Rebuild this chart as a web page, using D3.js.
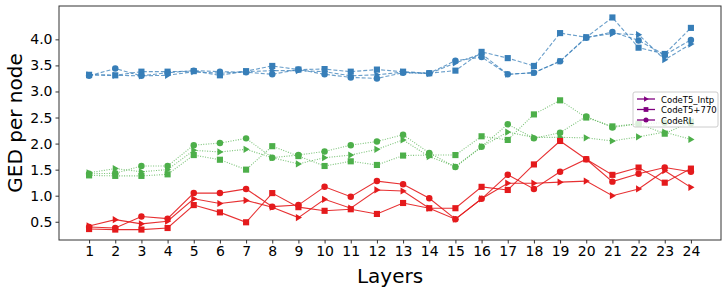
<!DOCTYPE html>
<html>
<head>
<meta charset="utf-8">
<script src="https://cdn.jsdelivr.net/npm/d3@7"></script>
<style>
  body { margin: 0; background: #fff; }
  svg text { font-family: "DejaVu Sans", sans-serif; }
</style>
</head>
<body>
<div id="chart"></div>
<script>
// layers on the x axis
var layers = d3.range(1, 25);

// blue group (dashed)
var blueIntp = [3.32, 3.31, 3.30, 3.31, 3.38, 3.35, 3.38, 3.40, 3.40, 3.38, 3.30, 3.32, 3.37, 3.34, 3.55, 3.72, 3.33, 3.36, 3.58, 4.04, 4.11, 4.09, 3.61, 3.91];
var blueT5 = [3.32, 3.31, 3.38, 3.38, 3.39, 3.31, 3.39, 3.49, 3.42, 3.43, 3.38, 3.42, 3.38, 3.35, 3.40, 3.76, 3.64, 3.49, 4.12, 4.04, 4.42, 3.84, 3.72, 4.22];
var blueRL = [3.30, 3.44, 3.30, 3.36, 3.40, 3.38, 3.37, 3.33, 3.42, 3.33, 3.27, 3.25, 3.36, 3.35, 3.59, 3.66, 3.33, 3.36, 3.58, 4.03, 4.14, 3.98, 3.70, 3.99];

// green group (dotted)
var greenIntp = [1.44, 1.52, 1.46, 1.50, 1.87, 1.84, 1.89, 1.73, 1.61, 1.73, 1.78, 1.89, 2.07, 1.75, 1.56, 1.94, 2.22, 2.12, 2.12, 2.11, 2.05, 2.13, 2.22, 2.08];
var greenT5 = [1.39, 1.38, 1.38, 1.41, 1.78, 1.69, 1.50, 1.95, 1.76, 1.57, 1.66, 1.59, 1.77, 1.78, 1.78, 2.14, 2.07, 2.56, 2.83, 2.50, 2.33, 2.38, 2.19, 2.42];
var greenRL = [1.42, 1.43, 1.57, 1.57, 1.97, 2.01, 2.10, 1.73, 1.78, 1.85, 1.97, 2.04, 2.17, 1.82, 1.55, 1.94, 2.37, 2.10, 2.21, 2.52, 2.31, 2.38, 2.40, 2.39];

// red group (solid)
var redIntp = [0.42, 0.54, 0.46, 0.51, 0.94, 0.85, 0.91, 0.78, 0.58, 0.93, 0.76, 1.11, 1.09, 0.76, 0.55, 0.94, 1.24, 1.24, 1.26, 1.28, 1.00, 1.13, 1.48, 1.16];
var redT5 = [0.36, 0.35, 0.35, 0.38, 0.82, 0.68, 0.49, 1.05, 0.78, 0.71, 0.74, 0.65, 0.86, 0.76, 0.76, 1.17, 1.11, 1.60, 2.05, 1.70, 1.40, 1.54, 1.25, 1.52];
var redRL = [0.40, 0.38, 0.60, 0.56, 1.05, 1.05, 1.13, 0.79, 0.82, 1.17, 0.98, 1.28, 1.22, 0.95, 0.55, 0.94, 1.40, 1.13, 1.46, 1.70, 1.27, 1.42, 1.54, 1.46];

var yTicks = [0.5, 1.0, 1.5, 2.0, 2.5, 3.0, 3.5, 4.0];
var legendNames = ["CodeT5_Intp", "CodeT5+770", "CodeRL"];

var groups = [
  { color: "#377eb8", dash: "4,2", series: [blueIntp, blueT5, blueRL] },
  { color: "#4daf4a", dash: "1,1.5", series: [greenIntp, greenT5, greenRL] },
  { color: "#e41a1c", dash: null, series: [redIntp, redT5, redRL] }
];
var shapes = ["tri", "square", "circle"];

var W = 728, H = 291;
var margin = { top: 6, right: 7, bottom: 51, left: 59 };
var width = W - margin.left - margin.right,
  height = H - margin.top - margin.bottom;

var svg = d3.select("#chart").append("svg")
  .attr("width", W).attr("height", H)
  .append("g")
  .attr("transform", "translate(" + margin.left + "," + margin.top + ")");

var x = d3.scaleLinear().domain([-0.15, 25.15]).range([0, width]);
var y = d3.scaleLinear().domain([0.15, 4.64]).range([height, 0]);

function marker(sel, shape, color, s) {
  if (shape == "tri") {
    sel.append("path").attr("d", "M" + (-s * 0.7) + "," + (-s) + "L" + s + ",0L" + (-s * 0.7) + "," + s + "Z").attr("fill", color);
  } else if (shape == "square") {
    sel.append("rect").attr("x", -s * 0.85).attr("y", -s * 0.85).attr("width", s * 1.7).attr("height", s * 1.7).attr("fill", color);
  } else {
    sel.append("circle").attr("r", s * 0.9).attr("fill", color);
  }
}

var line = d3.line().x(function (d, i) { return x(layers[i]); }).y(function (d) { return y(d); });

groups.forEach(function (g) {
  g.series.forEach(function (vals, k) {
    svg.append("path")
      .datum(vals)
      .attr("d", line)
      .attr("fill", "none")
      .attr("stroke", g.color)
      .attr("stroke-width", 1.1)
      .attr("stroke-opacity", g.dash ? 0.75 : 0.9)
      .attr("stroke-dasharray", g.dash);
    svg.append("g").selectAll("g")
      .data(vals)
      .enter().append("g")
      .attr("transform", function (d, i) { return "translate(" + x(layers[i]) + "," + y(d) + ")"; })
      .each(function () { marker(d3.select(this), shapes[k], g.color, 3.6); });
  });
});

// axes
var xAxis = svg.append("g")
  .attr("transform", "translate(0," + height + ")")
  .call(d3.axisBottom(x).tickValues(layers).tickFormat(d3.format("d")).tickSizeOuter(0).tickSize(3.5).tickPadding(3));
var yAxis = svg.append("g")
  .call(d3.axisLeft(y).tickValues(yTicks).tickFormat(d3.format(".1f")).tickSizeOuter(0).tickSize(3.5).tickPadding(3));
[xAxis, yAxis].forEach(function (a) {
  a.select(".domain").remove();
  a.selectAll("text").style("font-size", "14px").attr("fill", "#000");
  a.selectAll("line").attr("stroke", "#333");
});

// frame
svg.append("rect").attr("width", width).attr("height", height)
  .attr("fill", "none").attr("stroke", "#333").attr("stroke-width", 1);

svg.append("text")
  .attr("x", width / 2).attr("y", height + 43)
  .attr("text-anchor", "middle").style("font-size", "20px").text("Layers");
svg.append("text")
  .attr("transform", "rotate(-90)")
  .attr("x", -height / 2).attr("y", -37)
  .attr("text-anchor", "middle").style("font-size", "20px").text("GED per node");

// legend
var lg = svg.append("g").attr("transform", "translate(" + (width - 88) + ",86)");
lg.append("rect").attr("width", 85).attr("height", 35).attr("rx", 2)
  .attr("fill", "#fff").attr("fill-opacity", 0.8).attr("stroke", "#ccc");
legendNames.forEach(function (n, k) {
  var row = lg.append("g").attr("transform", "translate(4," + (7 + k * 10.5) + ")");
  row.append("line").attr("x1", 0).attr("x2", 18).attr("stroke", "purple").attr("stroke-width", 1.3);
  marker(row.append("g").attr("transform", "translate(9,0)"), shapes[k], "purple", 2.8);
  row.append("text").attr("x", 24).attr("y", 3.5).style("font-size", "8.5px").text(n);
});
</script>
</body>
</html>
